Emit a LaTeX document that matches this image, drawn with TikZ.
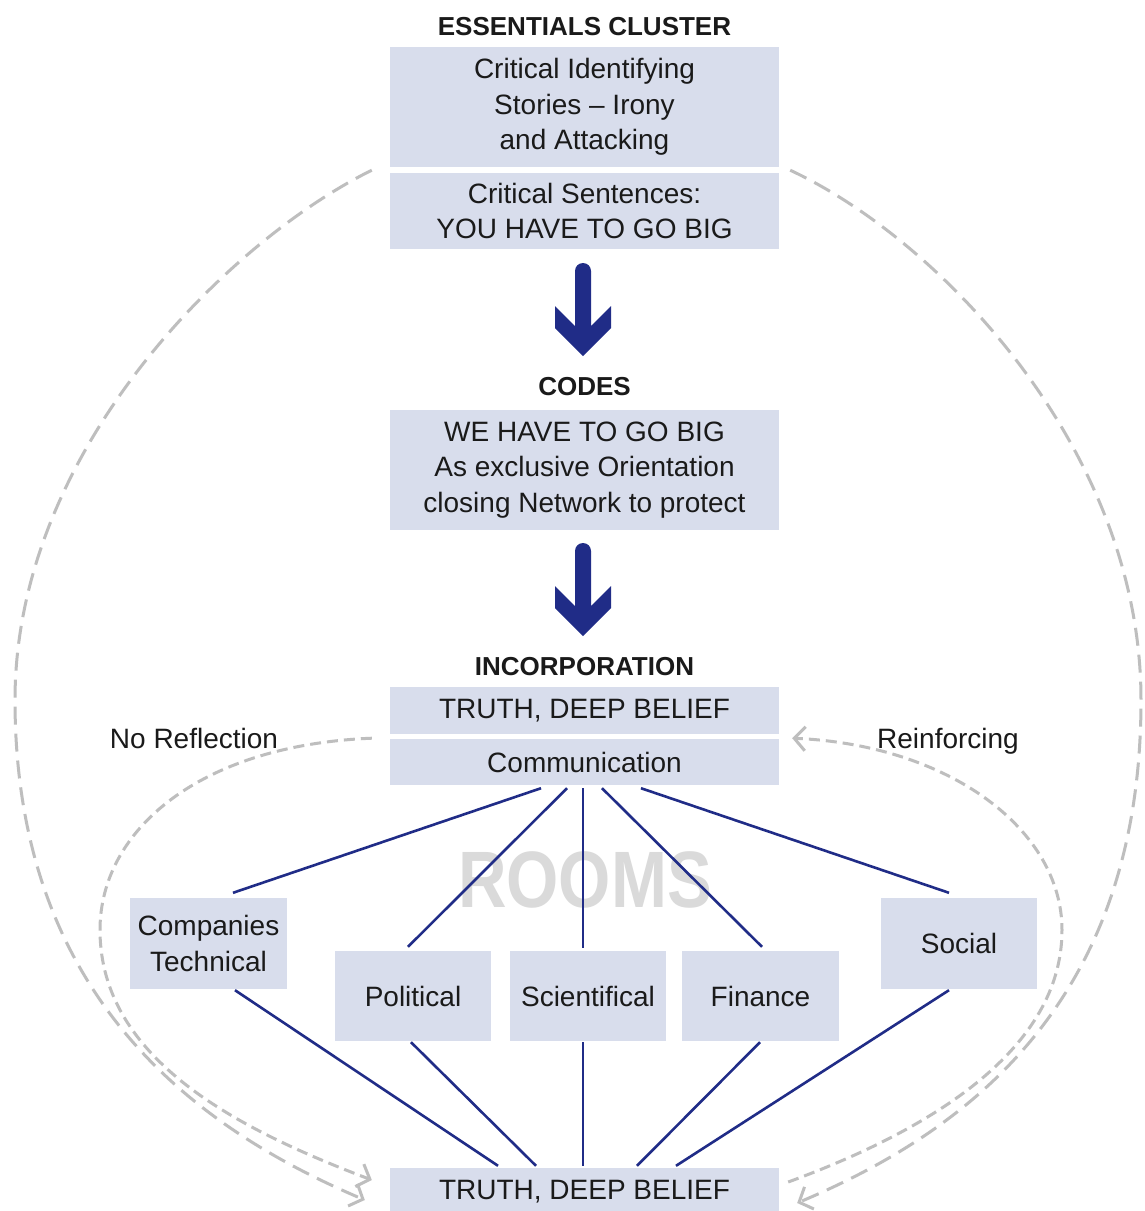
\documentclass[tikz,border=0pt]{standalone}
\usepackage{graphicx}
\usepackage{fontspec}
\setmainfont{Liberation Sans}
\usetikzlibrary{arrows.meta,calc}
\definecolor{boxfill}{RGB}{216,221,236}
\definecolor{navy}{RGB}{32,44,135}
\definecolor{dashgray}{RGB}{190,190,190}
\definecolor{roomsgray}{RGB}{218,218,218}
\definecolor{ink}{RGB}{26,26,26}
\begin{document}
\begin{tikzpicture}[x=1pt,y=-1pt,
  box/.style={fill=boxfill, draw=none, inner sep=0pt, align=center, text=ink,
              font=\fontsize{28}{35.5}\selectfont},
  wide/.style={box, minimum width=389pt},
  room/.style={box, minimum width=156pt},
  heading/.style={inner sep=0pt, anchor=base, text=ink, font=\fontsize{26}{30}\selectfont\bfseries},
  sidelabel/.style={inner sep=0pt, anchor=base, text=ink, font=\fontsize{28}{34}\selectfont},
  link/.style={draw=navy, line width=2.6pt},
  loopout/.style={draw=dashgray, line width=3pt, dash pattern=on 18pt off 9pt},
  loopin/.style={draw=dashgray, line width=3pt, dash pattern=on 11pt off 6pt},
  barb/.style={-{Straight Barb[length=11pt,width=24pt]}}]

\useasboundingbox (0,0) rectangle (1145,1211);
\clip (0,0) rectangle (1145,1211);
\fill[white] (0,0) rectangle (1145,1211);

% watermark behind the room links
\node[inner sep=0pt, text=roomsgray, font=\fontsize{80}{80}\selectfont\bfseries] (rooms) at (585,880)
  {\scalebox{0.84}[1]{ROOMS}};

% headings
\node[heading] (tEss) at (584.5,35) {ESSENTIALS CLUSTER};
\node[heading] (tCodes) at (584.5,395) {CODES};
\node[heading] (tInc) at (584.5,675) {INCORPORATION};

% central column
\node[wide, minimum height=120pt] (b1) at (584.5,107) {Critical Identifying\\Stories \textendash{} Irony\\and Attacking};
\node[wide, minimum height=76pt] (b2) at (584.5,211) {Critical Sentences:\\YOU HAVE TO GO BIG};
\node[wide, minimum height=120pt] (b3) at (584.5,470) {WE HAVE TO GO BIG\\As exclusive Orientation\\closing Network to protect};
\node[wide, minimum height=47pt] (b4) at (584.5,710.5) {TRUTH, DEEP BELIEF};
\node[wide, minimum height=46pt] (b5) at (584.5,762) {Communication};
\node[wide, minimum height=48pt] (bot) at (584.5,1192) {TRUTH, DEEP BELIEF};

% rooms
\node[room, minimum width=157pt, minimum height=91pt] (comp) at (208.5,943.5) {Companies\\Technical};
\node[room, minimum height=90pt] (pol) at (413,996) {Political};
\node[room, minimum height=90pt] (sci) at (588,996) {Scientifical};
\node[room, minimum width=157pt, minimum height=90pt] (fin) at (760.5,996) {Finance};
\node[room, minimum height=91pt] (soc) at (959,943.5) {Social};

% side labels
\node[sidelabel] (noref) at (194,748) {No Reflection};
\node[sidelabel] (reinf) at (948,748) {Reinforcing};

% thick downward arrows
\foreach \dy in {0,280}{
  \fill[navy, shift={(0,\dy)}] (575,326) -- (575,271) arc[start angle=180, end angle=360, radius=8]
    -- (591,326) -- (611,306) -- (611,328) -- (583,356) -- (555,328) -- (555,306) -- cycle;
}

% links from communication to the rooms
\draw[link] ([xshift=-43.5pt,yshift=-3pt]b5.south) -- ([xshift=24.5pt,yshift=5pt]comp.north);
\draw[link] ([xshift=-17.5pt,yshift=-3pt]b5.south) -- ([xshift=-5pt,yshift=4pt]pol.north);
\draw[link] ([xshift=-1.5pt,yshift=-3pt]b5.south) -- ([xshift=-5pt,yshift=3pt]sci.north);
\draw[link] ([xshift=17.5pt,yshift=-3pt]b5.south) -- ([xshift=1.5pt,yshift=4pt]fin.north);
\draw[link] ([xshift=56.5pt,yshift=-3pt]b5.south) -- ([xshift=-10pt,yshift=5pt]soc.north);

% links from the rooms to the bottom box
\draw[link] ([xshift=26.5pt,yshift=-1pt]comp.south) -- ([xshift=-86.5pt,yshift=2pt]bot.north);
\draw[link] ([xshift=-2pt,yshift=-1pt]pol.south) -- ([xshift=-48.5pt,yshift=2pt]bot.north);
\draw[link] ([xshift=-5pt,yshift=-1pt]sci.south) -- ([xshift=-1.5pt,yshift=2pt]bot.north);
\draw[link] ([xshift=-0.5pt,yshift=-1pt]fin.south) -- ([xshift=52.5pt,yshift=2pt]bot.north);
\draw[link] ([xshift=-10pt,yshift=-1pt]soc.south) -- ([xshift=91.5pt,yshift=2pt]bot.north);

% loop end points
\coordinate (oLs) at ([xshift=-18pt,yshift=-3pt]b1.south west);
\coordinate (oLe) at ([xshift=-25pt,yshift=-8pt]bot.west);
\coordinate (oRs) at ([xshift=11pt,yshift=-3pt]b1.south east);
\coordinate (oRe) at ([xshift=18pt,yshift=-11pt]bot.east);
\coordinate (iLs) at ([xshift=-18pt,yshift=-4pt]b4.south west);
\coordinate (iLe) at ([xshift=-18pt,yshift=12pt]bot.west);
\coordinate (iRs) at ([xshift=9pt,yshift=10pt]bot.east);
\coordinate (iRe) at ([xshift=13pt,yshift=-4pt]b4.south east);

% outer feedback loops
\draw[loopout,barb] (oLs) .. controls (230,240) and (15,450) .. (15,700)
  .. controls (15,1000) and (200,1130) .. (oLe);
\draw[loopout,barb] (oRs) .. controls (940,240) and (1141,450) .. (1141,700)
  .. controls (1141,1000) and (970,1130) .. (oRe);

% inner loops
\draw[loopin,barb] (iLs) .. controls (200,745) and (100,830) .. (100,930)
  .. controls (100,1060) and (240,1130) .. (iLe);
\draw[loopin,barb] (iRs) .. controls (930,1130) and (1062,1050) .. (1062,930)
  .. controls (1062,830) and (950,745) .. (iRe);
\end{tikzpicture}
\end{document}
